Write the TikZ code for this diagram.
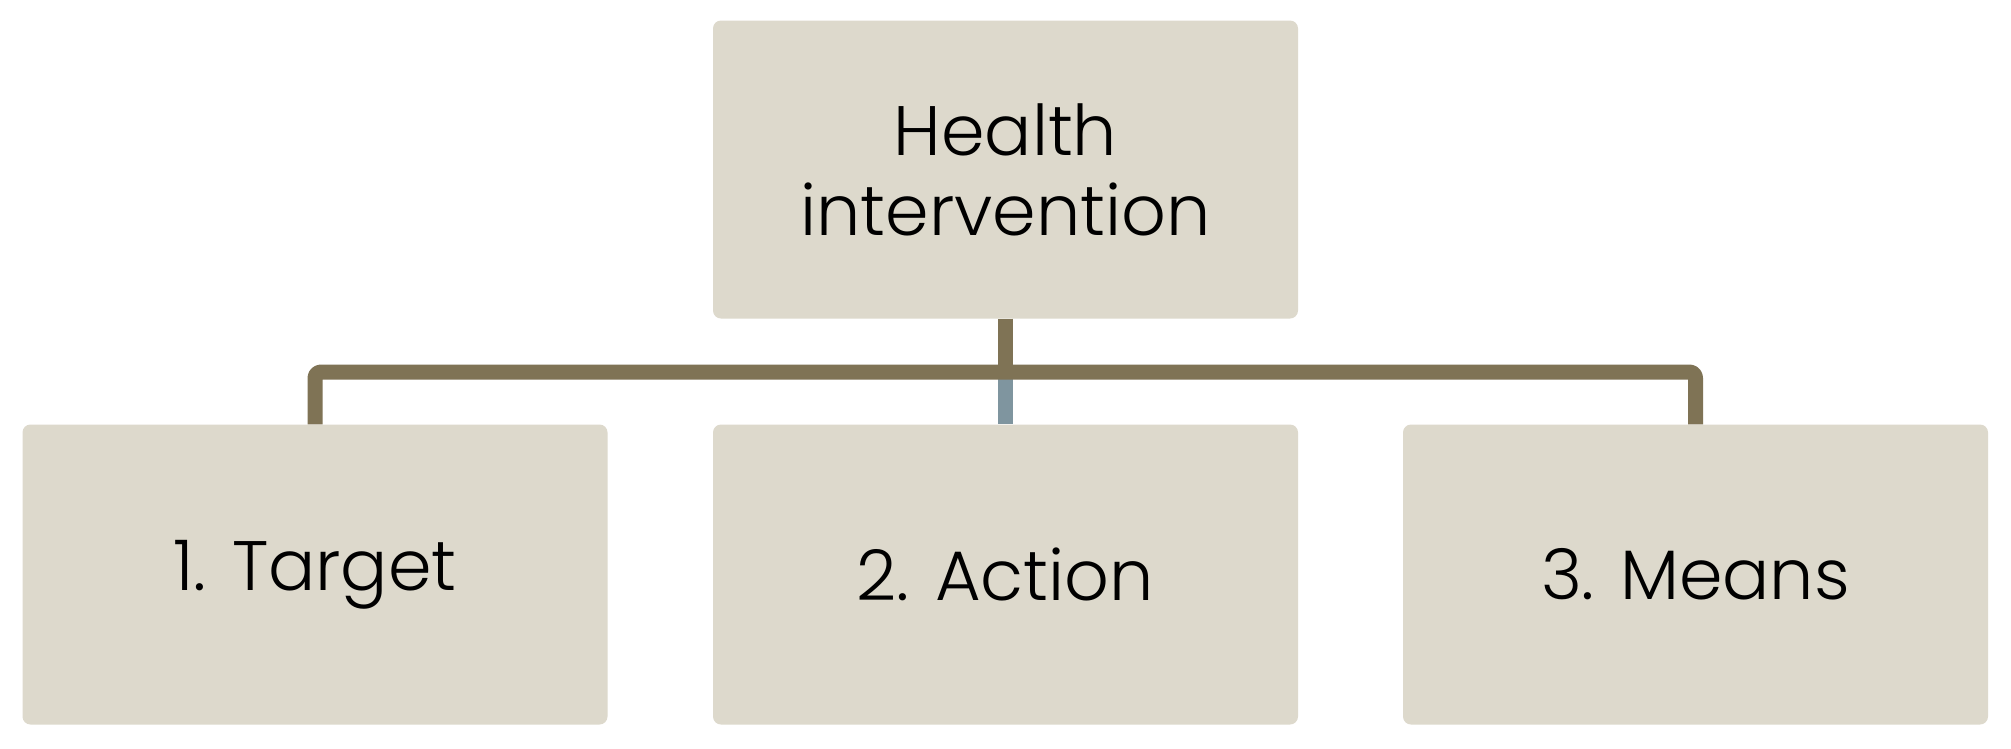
\documentclass[tikz,border=0pt]{standalone}
\usepackage{fontspec}
\setmainfont{Poppins Light}
\definecolor{boxfill}{HTML}{DDD9CC}
\definecolor{linebrown}{HTML}{7F7355}
\definecolor{lineblue}{HTML}{7F959F}
\begin{document}
\begin{tikzpicture}[x=1pt,y=-1pt,
  card/.style={fill=boxfill, draw=none, rounded corners=8pt, minimum width=585pt, minimum height=300pt, inner sep=0pt, align=center, font=\fontsize{70}{80}\selectfont, text=black},
  conn/.style={line width=15pt, draw=linebrown, line join=round, rounded corners=6pt}]
\useasboundingbox (0,0) rectangle (2011,748);
\fill[white] (0,0) rectangle (2011,748);
\node[card, minimum height=298pt] (top) at (1005.5,169.5) {Health\\intervention};
\node[card] (t) at (315,574.5) {1. Target};
\node[card] (a) at (1005.5,574.5) {2. Action};
\node[card] (m) at (1695.5,574.5) {3. Means};
\coordinate (bar) at (1005.5,372);
\draw[line width=15pt, draw=lineblue] (bar) -- (a.north);
\draw[conn] (t.north) |- (bar) -| (m.north);
\draw[conn] (top.south) -- (bar);
\end{tikzpicture}
\end{document}
